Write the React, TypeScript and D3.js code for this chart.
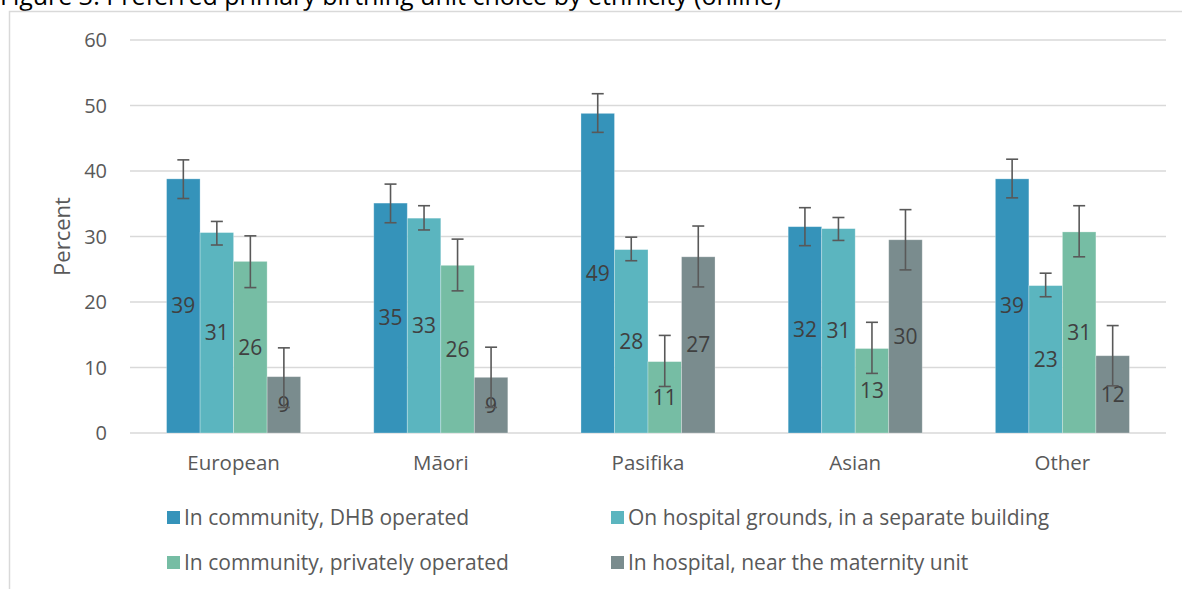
import React, { useEffect, useRef } from 'react';
import * as d3 from 'd3';

const categories = ['European', 'Māori', 'Pasifika', 'Asian', 'Other'];
const seriesNames = [
  'In community, DHB operated',
  'On hospital grounds, in a separate building',
  'In community, privately operated',
  'In hospital, near the maternity unit',
];
const seriesColors = ['#3593BA', '#5BB5BF', '#76BDA4', '#7A8C8E'];

// values per series, in category order
const dhbOperated = [38.8, 35.1, 48.8, 31.5, 38.8];
const separateBuilding = [30.6, 32.8, 28.0, 31.2, 22.5];
const privatelyOperated = [26.2, 25.6, 10.9, 12.9, 30.7];
const nearMaternity = [8.6, 8.5, 26.9, 29.5, 11.8];

// error bar bounds
const dhbLow = [35.8, 32.1, 45.9, 28.6, 35.9];
const dhbHigh = [41.7, 38.0, 51.8, 34.4, 41.8];
const sepLow = [28.7, 31.0, 26.3, 29.4, 20.8];
const sepHigh = [32.3, 34.7, 29.9, 32.9, 24.4];
const privLow = [22.2, 21.7, 7.1, 9.1, 26.9];
const privHigh = [30.1, 29.6, 14.9, 16.9, 34.7];
const nearLow = [3.9, 3.9, 22.3, 24.9, 7.2];
const nearHigh = [13.0, 13.1, 31.6, 34.1, 16.4];

const yTicks = [0, 10, 20, 30, 40, 50, 60];

const App = () => {
  const ref = useRef(null);

  useEffect(() => {
    const svg = d3.select(ref.current);
    svg.selectAll('*').remove();

    const W = 1182, H = 589;
    const left = 130, right = 1166, top = 40, bottom = 433;
    const font = '"Open Sans", sans-serif';

    const values = [dhbOperated, separateBuilding, privatelyOperated, nearMaternity];
    const lows = [dhbLow, sepLow, privLow, nearLow];
    const highs = [dhbHigh, sepHigh, privHigh, nearHigh];

    // title (cut off at the top in the original)
    svg.append('text')
      .attr('x', 0)
      .attr('y', 5)
      .style('font-family', font)
      .style('font-size', '25px')
      .style('fill', '#000')
      .text('Figure 3: Preferred primary birthing unit choice by ethnicity (online)');

    // frame
    svg.append('path')
      .attr('d', `M9.5,${H} V11.5 H${W}`)
      .attr('fill', 'none')
      .attr('stroke', '#d9d9d9')
      .attr('stroke-width', 1.5);

    const x = d3.scaleBand()
      .domain(categories)
      .range([left, right])
      .paddingInner(0.353)
      .paddingOuter(0.1765);

    const xs = d3.scaleBand()
      .domain(seriesNames)
      .range([0, x.bandwidth()]);

    const y = d3.scaleLinear().domain([0, 60]).range([bottom, top]);

    // gridlines
    svg.append('g')
      .selectAll('line')
      .data(yTicks)
      .enter().append('line')
      .attr('x1', left)
      .attr('x2', right)
      .attr('y1', d => y(d))
      .attr('y2', d => y(d))
      .attr('stroke', '#d9d9d9')
      .attr('stroke-width', 1.3);

    // y tick labels
    svg.append('g')
      .selectAll('text')
      .data(yTicks)
      .enter().append('text')
      .attr('x', 107)
      .attr('y', d => y(d))
      .attr('dy', '0.35em')
      .attr('text-anchor', 'end')
      .style('font-family', font)
      .style('font-size', '20px')
      .style('fill', '#595959')
      .text(d => d);

    // y axis title
    svg.append('text')
      .attr('transform', `translate(62,${(top + bottom) / 2}) rotate(-90)`)
      .attr('text-anchor', 'middle')
      .attr('dy', '0.35em')
      .style('font-family', font)
      .style('font-size', '22px')
      .style('fill', '#595959')
      .text('Percent');

    // category labels
    svg.append('g')
      .selectAll('text')
      .data(categories)
      .enter().append('text')
      .attr('x', d => x(d) + x.bandwidth() / 2)
      .attr('y', 463)
      .attr('dy', '0.35em')
      .attr('text-anchor', 'middle')
      .style('font-family', font)
      .style('font-size', '20.5px')
      .style('fill', '#595959')
      .text(d => d);

    seriesNames.forEach((s, si) => {
      const g = svg.append('g');
      const data = categories.map((c, ci) => ({
        c, v: values[si][ci], lo: lows[si][ci], hi: highs[si][ci],
      }));
      const bx = d => x(d.c) + xs(s);
      const w = xs.bandwidth();

      g.selectAll('rect')
        .data(data)
        .enter().append('rect')
        .attr('x', d => bx(d))
        .attr('y', d => y(d.v))
        .attr('width', w)
        .attr('height', d => y(0) - y(d.v))
        .attr('fill', seriesColors[si])
        .attr('stroke', '#ffffff')
        .attr('stroke-opacity', 0.35)
        .attr('stroke-width', 0.8);

      // value labels
      g.selectAll('text')
        .data(data)
        .enter().append('text')
        .attr('x', d => bx(d) + w / 2)
        .attr('y', d => (y(d.v) + y(0)) / 2)
        .attr('dy', '0.35em')
        .attr('text-anchor', 'middle')
        .style('font-family', font)
        .style('font-size', '21px')
        .style('fill', '#404040')
        .text(d => Math.round(d.v));

      // error bars
      const eb = g.selectAll('g.err')
        .data(data)
        .enter().append('g')
        .attr('class', 'err')
        .attr('stroke', '#595959')
        .attr('stroke-width', 1.6);
      eb.append('line')
        .attr('x1', d => bx(d) + w / 2)
        .attr('x2', d => bx(d) + w / 2)
        .attr('y1', d => y(d.lo))
        .attr('y2', d => y(d.hi));
      eb.append('line')
        .attr('x1', d => bx(d) + w / 2 - 6)
        .attr('x2', d => bx(d) + w / 2 + 6)
        .attr('y1', d => y(d.hi))
        .attr('y2', d => y(d.hi));
      eb.append('line')
        .attr('x1', d => bx(d) + w / 2 - 6)
        .attr('x2', d => bx(d) + w / 2 + 6)
        .attr('y1', d => y(d.lo))
        .attr('y2', d => y(d.lo));
    });

    // legend
    const legendPos = [
      [167, 518], [611, 518], [167, 563], [611, 563],
    ];
    const lg = svg.append('g')
      .selectAll('g')
      .data(seriesNames)
      .enter().append('g')
      .attr('transform', (d, i) => `translate(${legendPos[i][0]},${legendPos[i][1]})`);
    lg.append('rect')
      .attr('x', 0)
      .attr('y', -7)
      .attr('width', 13)
      .attr('height', 13)
      .attr('fill', (d, i) => seriesColors[i]);
    lg.append('text')
      .attr('x', 17)
      .attr('y', 0)
      .attr('dy', '0.35em')
      .style('font-family', font)
      .style('font-size', '21px')
      .style('fill', '#595959')
      .text(d => d);
  }, []);

  return (
    <svg
      ref={ref}
      width={1182}
      height={589}
      style={{ position: 'absolute', left: 0, top: 0, background: '#fff' }}
    ></svg>
  );
};

export default App;
